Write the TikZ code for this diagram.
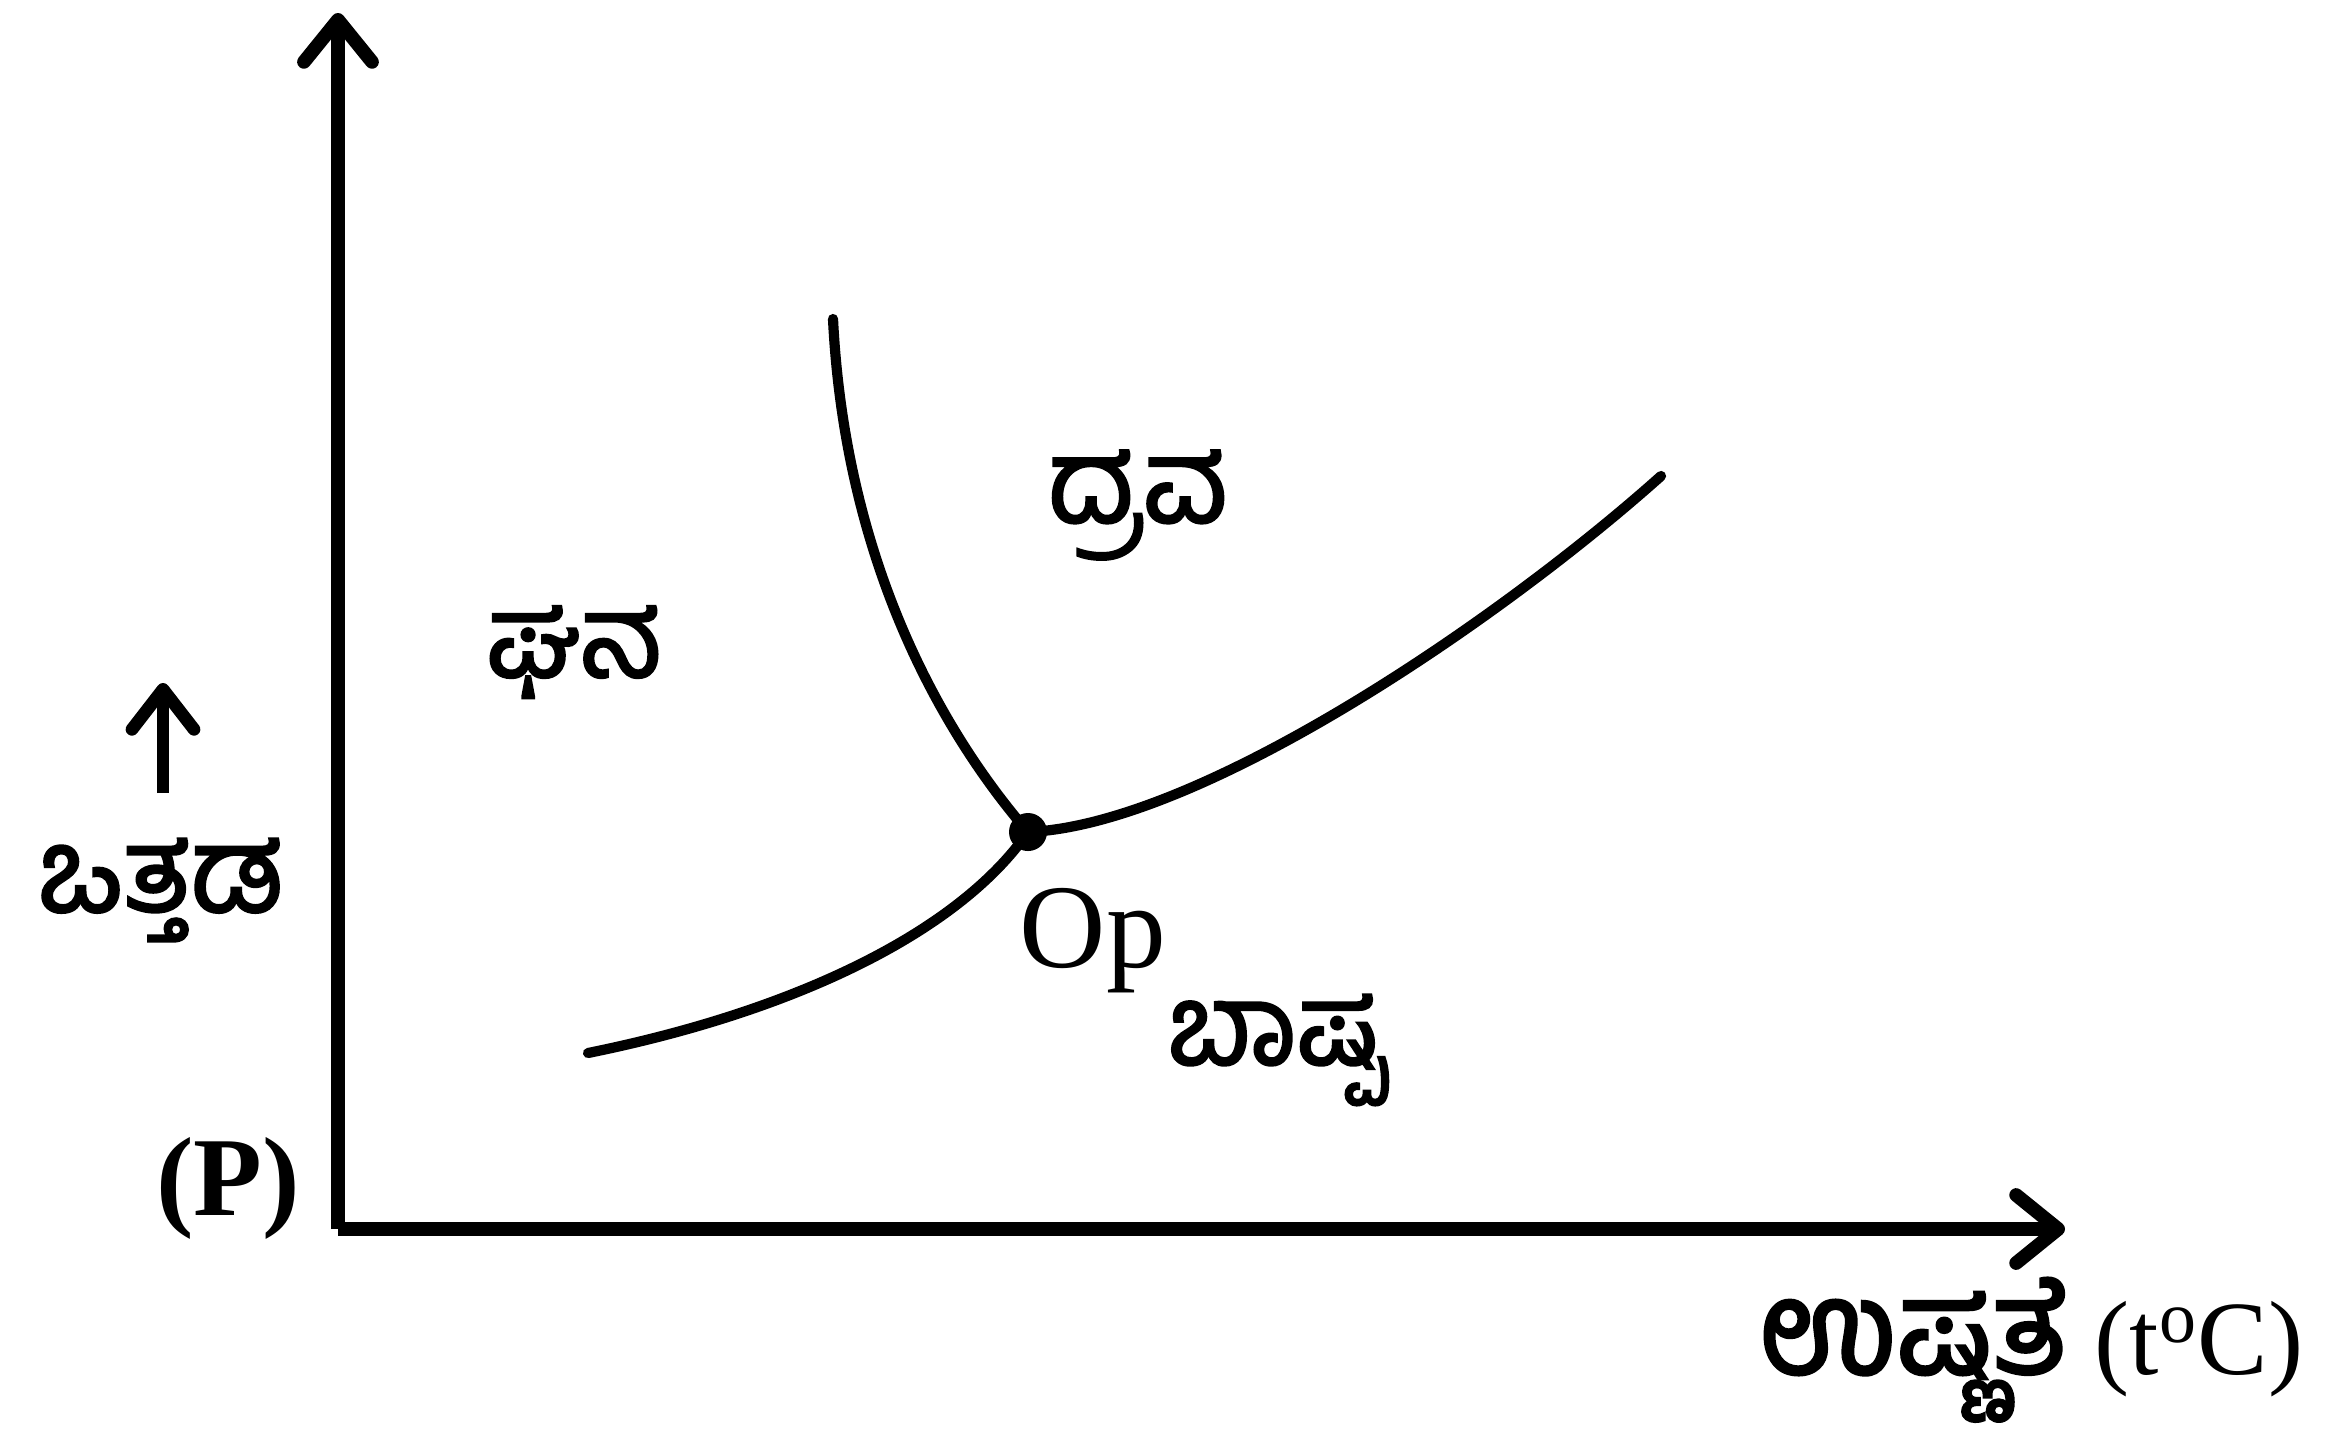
\documentclass[tikz,border=0pt]{standalone}
\usepackage{fontspec}
\setmainfont{Liberation Serif}
\newfontfamily\kan[Script=Kannada,FakeBold=2]{Hind Mysuru}
\usetikzlibrary{arrows.meta}
\begin{document}
\begin{tikzpicture}[x=0.01cm,y=-0.01cm,
  axis/.style={line width=3.9pt,-{Straight Barb[length=0.42cm,width=0.68cm,round]}},
  curve/.style={line width=2.9pt,line cap=round},
  kn/.style={inner sep=0pt},
  lat/.style={inner sep=0pt,anchor=base}]
\useasboundingbox (0,0) rectangle (2346,1439);
\coordinate (O) at (338,1229);
\coordinate (ytop) at (338,13);
\coordinate (xend) at (2065,1229);
\draw[axis] (O) -- (ytop);
\draw[axis] (O) -- (xend);
% triple point
\node[circle,fill,inner sep=0pt,minimum size=0.38cm] (tp) at (1028,832) {};
\coordinate (f0) at (833,319);
\coordinate (s0) at (588,1053);
\coordinate (v1) at (1661,476);
\draw[curve] (f0) .. controls (845,560) and (940,730) .. (tp.center);
\draw[curve] (s0) .. controls (800,1010) and (960,930) .. (tp.center);
\draw[curve] (tp.center) .. controls (1200,825) and (1500,620) .. (v1);
% labels
\node[kn,font=\kan\fontsize{33}{38}\selectfont] (liq) at (1138,505) {ದ್ರವ};
\node[kn,font=\kan\fontsize{32.5}{38}\selectfont] (sol) at (574,652) {ಘನ};
\node[kn,font=\kan\fontsize{32}{38}\selectfont] (vap) at (1277,1050) {ಬಾಷ್ಪ};
\node[kn,font=\kan\fontsize{33.5}{38}\selectfont] (pr) at (160,890) {ಒತ್ತಡ};
\coordinate (pa0) at (163,793);
\coordinate (pa1) at (163,683);
\draw[line width=3.6pt,-{Straight Barb[length=0.4cm,width=0.62cm,round]}] (pa0) -- (pa1);
\node[lat,font=\fontsize{32}{36}\selectfont\bfseries] (P) at (228,1215) {(P)};
\node[lat,font=\fontsize{34}{38}\selectfont] (op) at (1093,967) {Op};
\node[lat,anchor=base east,font=\fontsize{30}{34}\selectfont] (tc) at (2304,1374) {{\kan\fontsize{37.5}{40}\selectfont ಉಷ್ಣತೆ} (t\textsuperscript{o}C)};
\end{tikzpicture}
\end{document}
